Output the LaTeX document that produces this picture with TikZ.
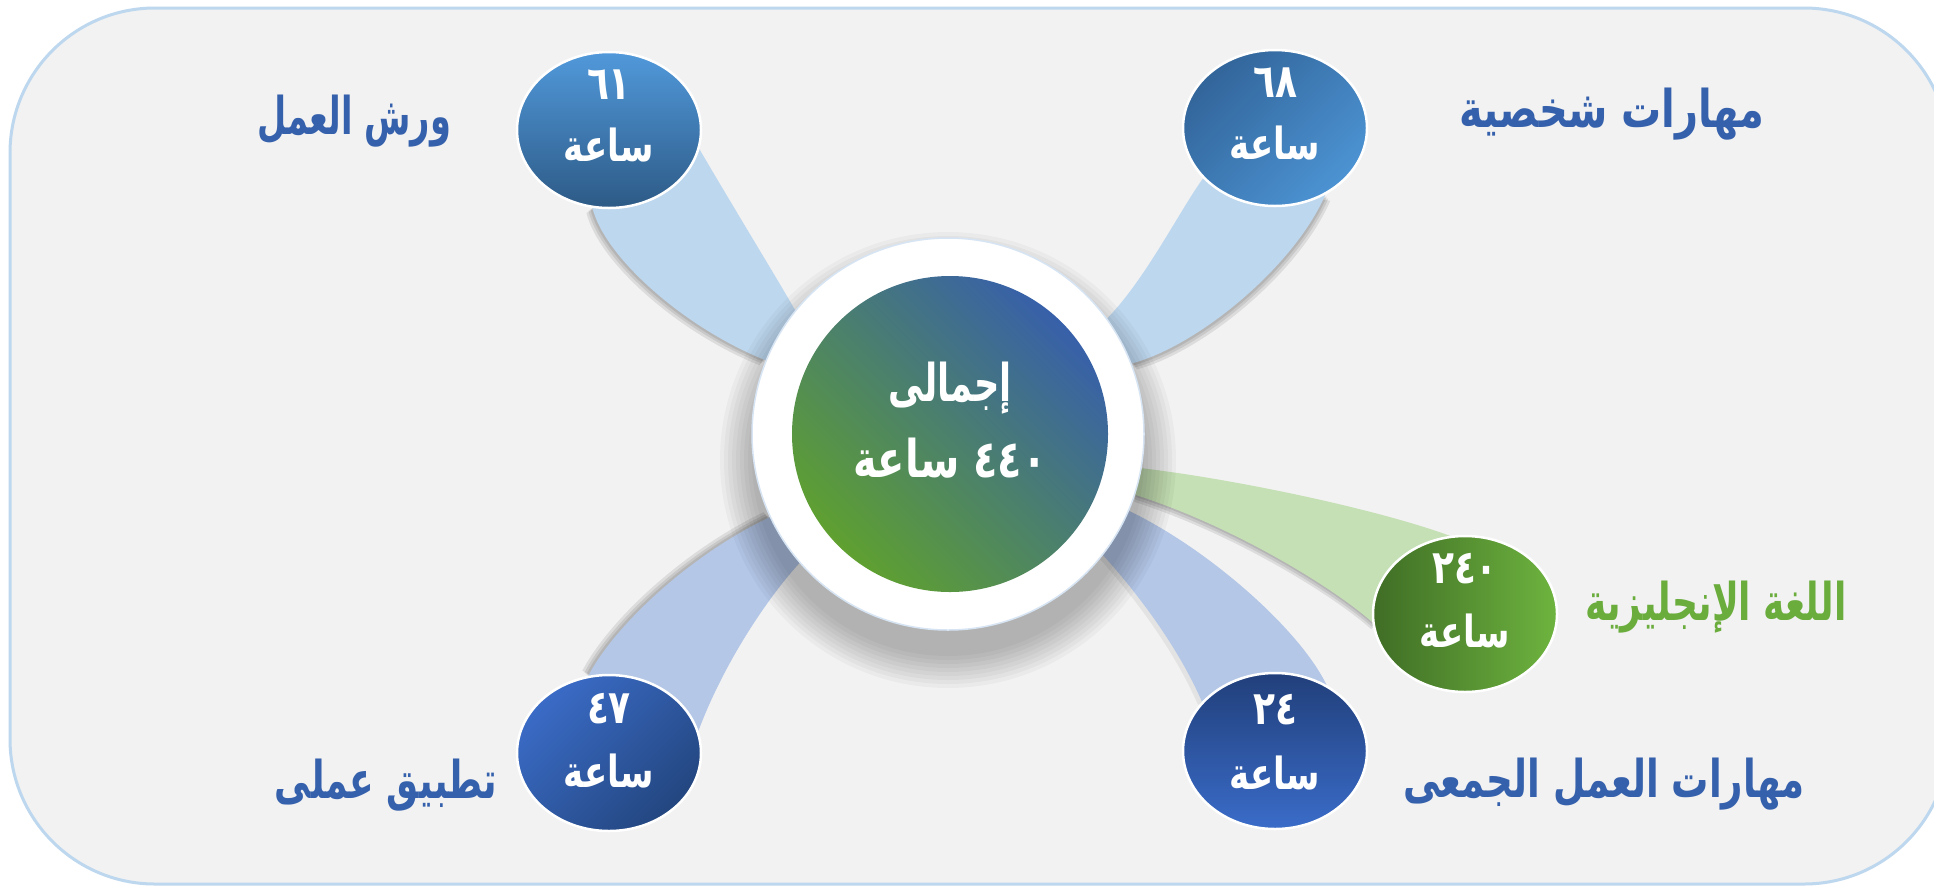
\documentclass[tikz,border=0pt]{standalone}
\usepackage{graphicx}
\usepackage{fontspec}
\newfontfamily\ar[Script=Arabic]{DejaVu Sans}
\TeXXeTstate=1
\usetikzlibrary{shapes.geometric}
\pgfdeclarelayer{background}
\pgfsetlayers{background,main}
\definecolor{bgc}{HTML}{F2F2F2}
\definecolor{framec}{HTML}{BDD7EE}
\definecolor{labblue}{HTML}{3560AC}
\definecolor{labgreen}{HTML}{6AAD3D}
\definecolor{bandlt}{HTML}{BDD7EE}
\definecolor{bandbl}{HTML}{B4C7E7}
\definecolor{bandgr}{HTML}{C5E0B4}
\definecolor{ringc}{HTML}{D6E4F3}
\definecolor{cgreen}{HTML}{5FA030}
\definecolor{cblue}{HTML}{3760A9}
\definecolor{aTop}{HTML}{5199DB}
\definecolor{aBot}{HTML}{2D5A86}
\definecolor{bTop}{HTML}{32659A}
\definecolor{bBot}{HTML}{4C93D3}
\definecolor{gL}{HTML}{3F6D25}
\definecolor{gR}{HTML}{6EB43F}
\definecolor{dTop}{HTML}{213F7A}
\definecolor{dBot}{HTML}{3A6CC9}
\definecolor{eTop}{HTML}{3A6BC6}
\definecolor{eBot}{HTML}{23467F}
\newcommand\stretchtxt[3]{\scalebox{#1}[#2]{#3}}
\newcommand\bandA[1]{\fill[#1] (c61.258) .. controls (605,258) and (685,328) .. (ctr.158) -- (ctr.141) .. controls (775,275) and (735,210) .. (c61.-12) -- cycle;}
\newcommand\bandB[1]{\fill[#1] (c68.215) .. controls (1180,210) and (1145,280) .. (ctr.36) -- (ctr.21) .. controls (1200,345) and (1295,265) .. (c68.307) -- cycle;}
\newcommand\bandC[1]{\fill[#1] (ctr.350) .. controls (1240,480) and (1380,510) .. (c240.101) -- (c240.185) .. controls (1330,585) and (1230,525) .. (ctr.342) -- cycle;}
\newcommand\bandD[1]{\fill[#1] (ctr.322) .. controls (1130,585) and (1175,640) .. (c24.146) -- (c24.52) .. controls (1300,630) and (1210,550) .. (ctr.337) -- cycle;}
\newcommand\bandE[1]{\fill[#1] (c47.105) .. controls (615,625) and (690,555) .. (ctr.205) -- (ctr.221) .. controls (770,595) and (725,660) .. (c47.14) -- cycle;}
\begin{document}
\begin{tikzpicture}[x=1pt,y=-1pt,
  smallc/.style={ellipse, draw=white, line width=2.5pt, minimum width=184pt, minimum height=156pt, inner sep=0pt},
  num/.style={text=white, font=\ar\bfseries\fontsize{36}{40}\selectfont, inner sep=0pt},
  hrs/.style={text=white, font=\ar\bfseries\fontsize{34}{40}\selectfont, inner sep=0pt},
  ctxt/.style={text=white, font=\ar\bfseries\fontsize{40}{48}\selectfont, inner sep=0pt},
  lab/.style={text=labblue, font=\ar\bfseries\fontsize{40}{48}\selectfont, inner sep=0pt},
  shad/.style={black, opacity=0.09}]
\useasboundingbox (0,0) rectangle (1934,887);
% central circle
\node[circle, fill=white, draw=ringc, line width=1.5pt, minimum size=392pt, inner sep=0pt] (ctr) at (948,434) {};
\node[circle, minimum size=316pt, inner sep=0pt, top color=cgreen, bottom color=cblue, shading angle=135] (ctrin) at (950,434) {};
\node[ctxt] (ct1) at ([yshift=46pt]ctrin.center) {\stretchtxt{0.88}{1.3}{\beginR إجمالى\endR}};
\node[ctxt] (ct2) at ([yshift=-24pt]ctrin.center) {\stretchtxt{1}{1.3}{\beginR ٤٤٠ ساعة\endR}};
% small circles
\node[smallc, top color=aTop, bottom color=aBot] (c61) at (609,130) {};
\node[smallc, top color=bTop, bottom color=bBot, shading angle=45] (c68) at (1275,128) {};
\node[smallc, left color=gL, right color=gR] (c240) at (1465,614) {};
\node[smallc, top color=dTop, bottom color=dBot] (c24) at (1275,751) {};
\node[smallc, top color=eTop, bottom color=eBot, shading angle=45] (c47) at (609,753) {};
% texts in small circles
\node[num] (n61) at ([yshift=45pt]c61.center) {\stretchtxt{1}{1.3}{٦١}};
\node[hrs] (h61) at ([yshift=-15pt]c61.center) {\stretchtxt{1}{1.3}{ساعة}};
\node[num] (n68) at ([yshift=45pt]c68.center) {\stretchtxt{1}{1.3}{٦٨}};
\node[hrs] (h68) at ([yshift=-15pt]c68.center) {\stretchtxt{1}{1.3}{ساعة}};
\node[num] (n240) at ([yshift=45pt]c240.center) {\stretchtxt{1}{1.3}{٢٤٠}};
\node[hrs] (h240) at ([yshift=-17pt]c240.center) {\stretchtxt{1}{1.3}{ساعة}};
\node[num] (n24) at ([yshift=41pt]c24.center) {\stretchtxt{1}{1.3}{٢٤}};
\node[hrs] (h24) at ([yshift=-22pt]c24.center) {\stretchtxt{1}{1.3}{ساعة}};
\node[num] (n47) at ([yshift=44pt]c47.center) {\stretchtxt{1}{1.3}{٤٧}};
\node[hrs] (h47) at ([yshift=-18pt]c47.center) {\stretchtxt{1}{1.3}{ساعة}};
% labels
\node[lab] (l61) at (354,121) {\stretchtxt{0.84}{1.3}{\beginR ورش العمل\endR}};
\node[lab] (l68) at (1612,114) {\stretchtxt{1}{1.3}{\beginR مهارات شخصية\endR}};
\node[lab, text=labgreen] (l240) at (1716,607) {\stretchtxt{0.9}{1.3}{\beginR اللغة الإنجليزية\endR}};
\node[lab] (l24) at (1604,784) {\stretchtxt{0.93}{1.3}{\beginR مهارات العمل الجمعى\endR}};
\node[lab] (l47) at (386,785) {\stretchtxt{0.9}{1.3}{\beginR تطبيق عملى\endR}};
\begin{pgfonlayer}{background}
\fill[white] (0,0) rectangle (1934,887);
\draw[framec, line width=3pt, fill=bgc, rounded corners=145pt] (10,8) rectangle (1949,884);
% band shadows
\bandA{shad, transform canvas={shift={(-6pt,-5pt)}}}
\bandA{shad, transform canvas={shift={(-4pt,-3pt)}}}
\bandA{shad, transform canvas={shift={(-2pt,-1.5pt)}}}
\bandB{shad, transform canvas={shift={(5pt,-6pt)}}}
\bandB{shad, transform canvas={shift={(3pt,-4pt)}}}
\bandB{shad, transform canvas={shift={(1.5pt,-2pt)}}}
\bandC{shad, transform canvas={shift={(-1pt,-7pt)}}}
\bandC{shad, transform canvas={shift={(-0.5pt,-4.5pt)}}}
\bandC{shad, transform canvas={shift={(0pt,-2pt)}}}
\bandD{shad, opacity=0.06, transform canvas={shift={(-4pt,-3pt)}}}
\bandE{shad, transform canvas={shift={(-6pt,5pt)}}}
\bandE{shad, transform canvas={shift={(-4pt,3pt)}}}
\bandE{shad, transform canvas={shift={(-2pt,1.5pt)}}}
% bands
\bandA{bandlt}
\bandB{bandlt}
\bandC{bandgr}
\bandD{bandbl}
\bandE{bandbl}
% central shadow
\foreach \r in {196,200,...,228} {\fill[black, opacity=0.03] (948,460) circle (\r pt);}
\end{pgfonlayer}
\end{tikzpicture}
\end{document}
